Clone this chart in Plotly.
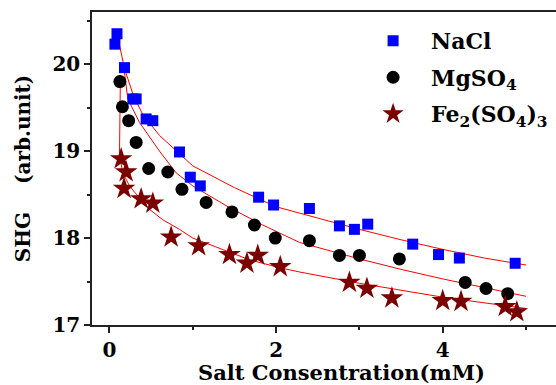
import plotly.graph_objects as go

# ---- data ----
nacl_x = [0.065, 0.09, 0.18, 0.28, 0.32, 0.44, 0.52, 0.84, 0.97, 1.09, 1.79, 1.97, 2.40, 2.76, 2.94, 3.10, 3.64, 3.95, 4.20, 4.87]
nacl_y = [20.23, 20.35, 19.96, 19.60, 19.60, 19.37, 19.35, 18.99, 18.70, 18.60, 18.47, 18.38, 18.34, 18.14, 18.10, 18.16, 17.93, 17.81, 17.77, 17.71]

mg_x = [0.125, 0.155, 0.23, 0.32, 0.47, 0.70, 0.87, 1.16, 1.47, 1.74, 1.99, 2.40, 2.76, 3.00, 3.48, 4.27, 4.52, 4.78]
mg_y = [19.80, 19.51, 19.35, 19.10, 18.80, 18.76, 18.56, 18.41, 18.30, 18.15, 18.00, 17.97, 17.80, 17.80, 17.76, 17.49, 17.42, 17.36]

fe_x = [0.14, 0.20, 0.175, 0.38, 0.52, 0.74, 1.07, 1.44, 1.65, 1.78, 2.05, 2.88, 3.09, 3.39, 4.00, 4.22, 4.75, 4.89]
fe_y = [18.91, 18.76, 18.57, 18.45, 18.40, 18.01, 17.91, 17.81, 17.71, 17.80, 17.67, 17.49, 17.42, 17.31, 17.28, 17.27, 17.21, 17.15]

# fitted curves
nacl_fit_x = [0.12, 0.18, 0.29, 0.40, 0.60, 0.80, 1.00, 1.50, 2.00, 2.50, 3.00, 3.50, 4.00, 4.50, 5.00]
nacl_fit_y = [20.22, 19.95, 19.63, 19.42, 19.18, 19.00, 18.83, 18.58, 18.36, 18.23, 18.10, 17.98, 17.87, 17.77, 17.69]

mg_fit_x = [0.18, 0.22, 0.36, 0.60, 0.80, 1.00, 1.44, 1.84, 2.28, 3.00, 3.50, 4.00, 4.50, 5.00]
mg_fit_y = [19.90, 19.60, 19.33, 19.00, 18.75, 18.60, 18.35, 18.15, 17.95, 17.76, 17.64, 17.53, 17.43, 17.33]

fe_fit_x = [0.13, 0.12, 0.12, 0.16, 0.24, 0.30, 0.48, 0.64, 0.84, 1.00, 1.68, 2.04, 2.28, 3.00, 4.00, 5.00]
fe_fit_y = [19.78, 19.30, 18.95, 18.75, 18.60, 18.53, 18.33, 18.21, 18.10, 18.00, 17.75, 17.66, 17.61, 17.48, 17.32, 17.19]

x_ticks = [0, 2, 4]
y_ticks = [17, 18, 19, 20]

x_title = "Salt Consentration(mM)"
y_title = "SHG\u00a0\u00a0\u00a0 (arb.unit)"

FONT = "DejaVu Serif"

fig = go.Figure()

for fx, fy in [(nacl_fit_x, nacl_fit_y), (mg_fit_x, mg_fit_y), (fe_fit_x, fe_fit_y)]:
    fig.add_trace(go.Scatter(x=fx, y=fy, mode="lines", line=dict(color="red", width=1),
                             showlegend=False, hoverinfo="skip"))

fig.add_trace(go.Scatter(x=nacl_x, y=nacl_y, mode="markers", name="NaCl", legendgroup="a",
                         marker=dict(symbol="square", color="#0000FF", size=11, line=dict(width=0))))
fig.add_trace(go.Scatter(x=mg_x, y=mg_y, mode="markers", name="MgSO<sub>4</sub>", legendgroup="b",
                         marker=dict(symbol="circle", color="black", size=13, line=dict(width=0))))
fig.add_trace(go.Scatter(x=fe_x, y=fe_y, mode="markers", name="Fe<sub>2</sub>(SO<sub>4</sub>)<sub>3</sub>",
                         legendgroup="c",
                         marker=dict(symbol="star", color="#7B0000", size=17, line=dict(width=0))))

axis_common = dict(
    showgrid=False, zeroline=False, showline=True, linecolor="#222222", linewidth=1.5,
    ticks="outside", ticklen=6, tickwidth=1.5, tickcolor="#222222",
    tickfont=dict(family=FONT, size=20, color="black", weight="bold"),
)

fig.update_layout(
    width=556, height=385,
    margin=dict(l=92, r=0, t=12, b=60),
    paper_bgcolor="white", plot_bgcolor="white",
    font=dict(family=FONT, color="black"),
    xaxis=dict(range=[-0.21, 5.36], tickvals=x_ticks, mirror=True,
               minor=dict(tickvals=[1, 3, 5], ticks="outside", ticklen=3, tickwidth=1.5, tickcolor="#222222"),
               **axis_common),
    yaxis=dict(range=[17, 20.6], tickvals=y_ticks, mirror=False,
               minor=dict(tickvals=[17.5, 18.5, 19.5, 20.5], ticks="outside", ticklen=3, tickwidth=1.5, tickcolor="#222222"),
               title=dict(text=y_title, standoff=16,
                          font=dict(family=FONT, size=20, color="black", weight="bold")),
               **axis_common),
    legend=dict(x=0.567, y=0.975, xanchor="left", yanchor="top", bgcolor="rgba(0,0,0,0)",
                itemwidth=66, tracegroupgap=5,
                font=dict(family=FONT, size=22, color="black", weight="bold")),
    annotations=[dict(text=x_title, xref="paper", yref="paper", x=0.537, y=-0.151,
                      xanchor="center", yanchor="middle", showarrow=False,
                      font=dict(family=FONT, size=21, color="black", weight="bold"))],
)

fig.write_html("out.html")
